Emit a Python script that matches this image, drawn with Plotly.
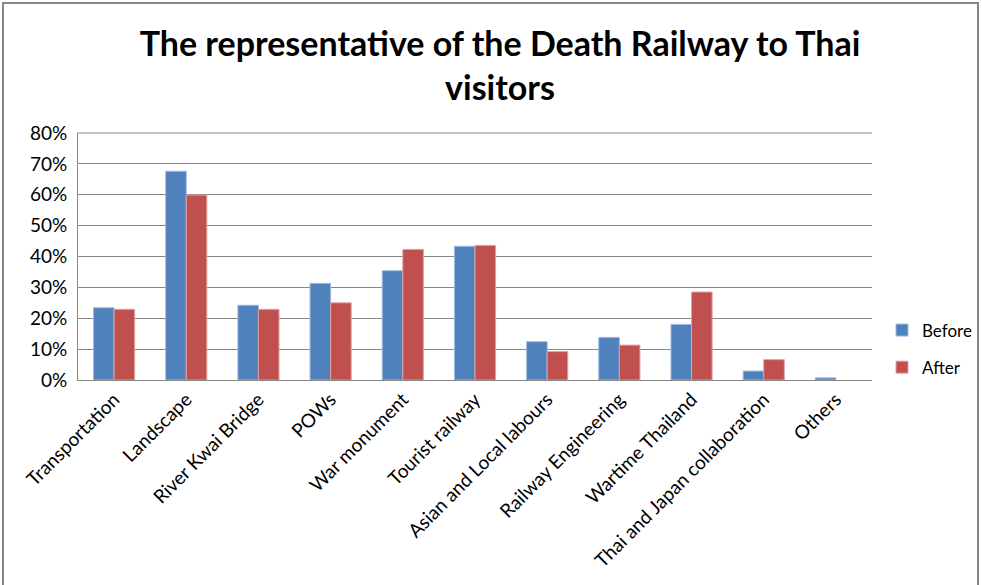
import plotly.graph_objects as go

categories = ["Transportation", "Landscape", "River Kwai Bridge", "POWs", "War monument",
              "Tourist railway", "Asian and Local labours", "Railway Engineering",
              "Wartime Thailand", "Thai and Japan collaboration", "Others"]
before = [0.234, 0.676, 0.242, 0.313, 0.354, 0.433, 0.124, 0.138, 0.180, 0.029, 0.007]
after = [0.229, 0.599, 0.229, 0.250, 0.423, 0.436, 0.092, 0.113, 0.285, 0.066, 0.0]
y_ticks = [0, 0.1, 0.2, 0.3, 0.4, 0.5, 0.6, 0.7, 0.8]
y_labels = ["0%", "10%", "20%", "30%", "40%", "50%", "60%", "70%", "80%"]

FONT = "Lato, 'Open Sans', sans-serif"
W, H = 982, 585
L, R, T, B = 78, 110, 133, 205
pw, ph = W - L - R, H - T - B


def line_widths(vals):
    return [1 if v > 0 else 0 for v in vals]


fig = go.Figure()
fig.add_trace(go.Bar(name="Before", x=categories, y=before, marker_color="#4F81BD",
                     legendgroup="a",
                     marker_line=dict(color="#9DB9DC", width=line_widths(before))))
fig.add_trace(go.Bar(name="After", x=categories, y=after, marker_color="#C0504D",
                     legendgroup="b",
                     marker_line=dict(color="#DDA3A2", width=line_widths(after))))

fig.update_layout(
    width=W, height=H,
    margin=dict(l=L, r=R, t=T, b=B, autoexpand=False),
    paper_bgcolor="white", plot_bgcolor="white",
    barmode="group", bargap=0.43, bargroupgap=0,
    title=dict(text="<b>The representative of the Death Railway to Thai<br>visitors</b>",
               x=500 / W, xanchor="center", y=1 - 56 / H, yanchor="middle",
               font=dict(family=FONT, size=34, color="black")),
    font=dict(family=FONT, size=18, color="black"),
    legend=dict(x=(882 - L) / pw, y=(380 - 349) / ph, xanchor="left", yanchor="middle",
                font=dict(family=FONT, size=17, color="black"), tracegroupgap=12,
                itemwidth=30, bgcolor="rgba(0,0,0,0)"),
    showlegend=True,
)
fig.update_xaxes(tickangle=-45, showline=True, linecolor="#868686", linewidth=1,
                 tickfont=dict(family=FONT, size=19), ticks="", showgrid=False)
fig.update_yaxes(range=[0, 0.8], tickvals=y_ticks, ticktext=y_labels,
                 showgrid=True, gridcolor="#868686", gridwidth=1,
                 showline=True, linecolor="#868686", linewidth=1,
                 tickfont=dict(family=FONT, size=19), ticks="", ticklabelstandoff=6,
                 zeroline=False)
fig.add_shape(type="line", xref="paper", yref="paper", x0=0, x1=1, y0=1, y1=1,
              line=dict(color="#868686", width=1))
fig.add_shape(type="rect", xref="paper", yref="paper",
              x0=(3 - L) / pw, x1=(978 - L) / pw, y0=(380 - 620) / ph, y1=(380 - 3) / ph,
              line=dict(color="#868686", width=2), fillcolor="rgba(0,0,0,0)", layer="below")

fig.write_html("out.html")
